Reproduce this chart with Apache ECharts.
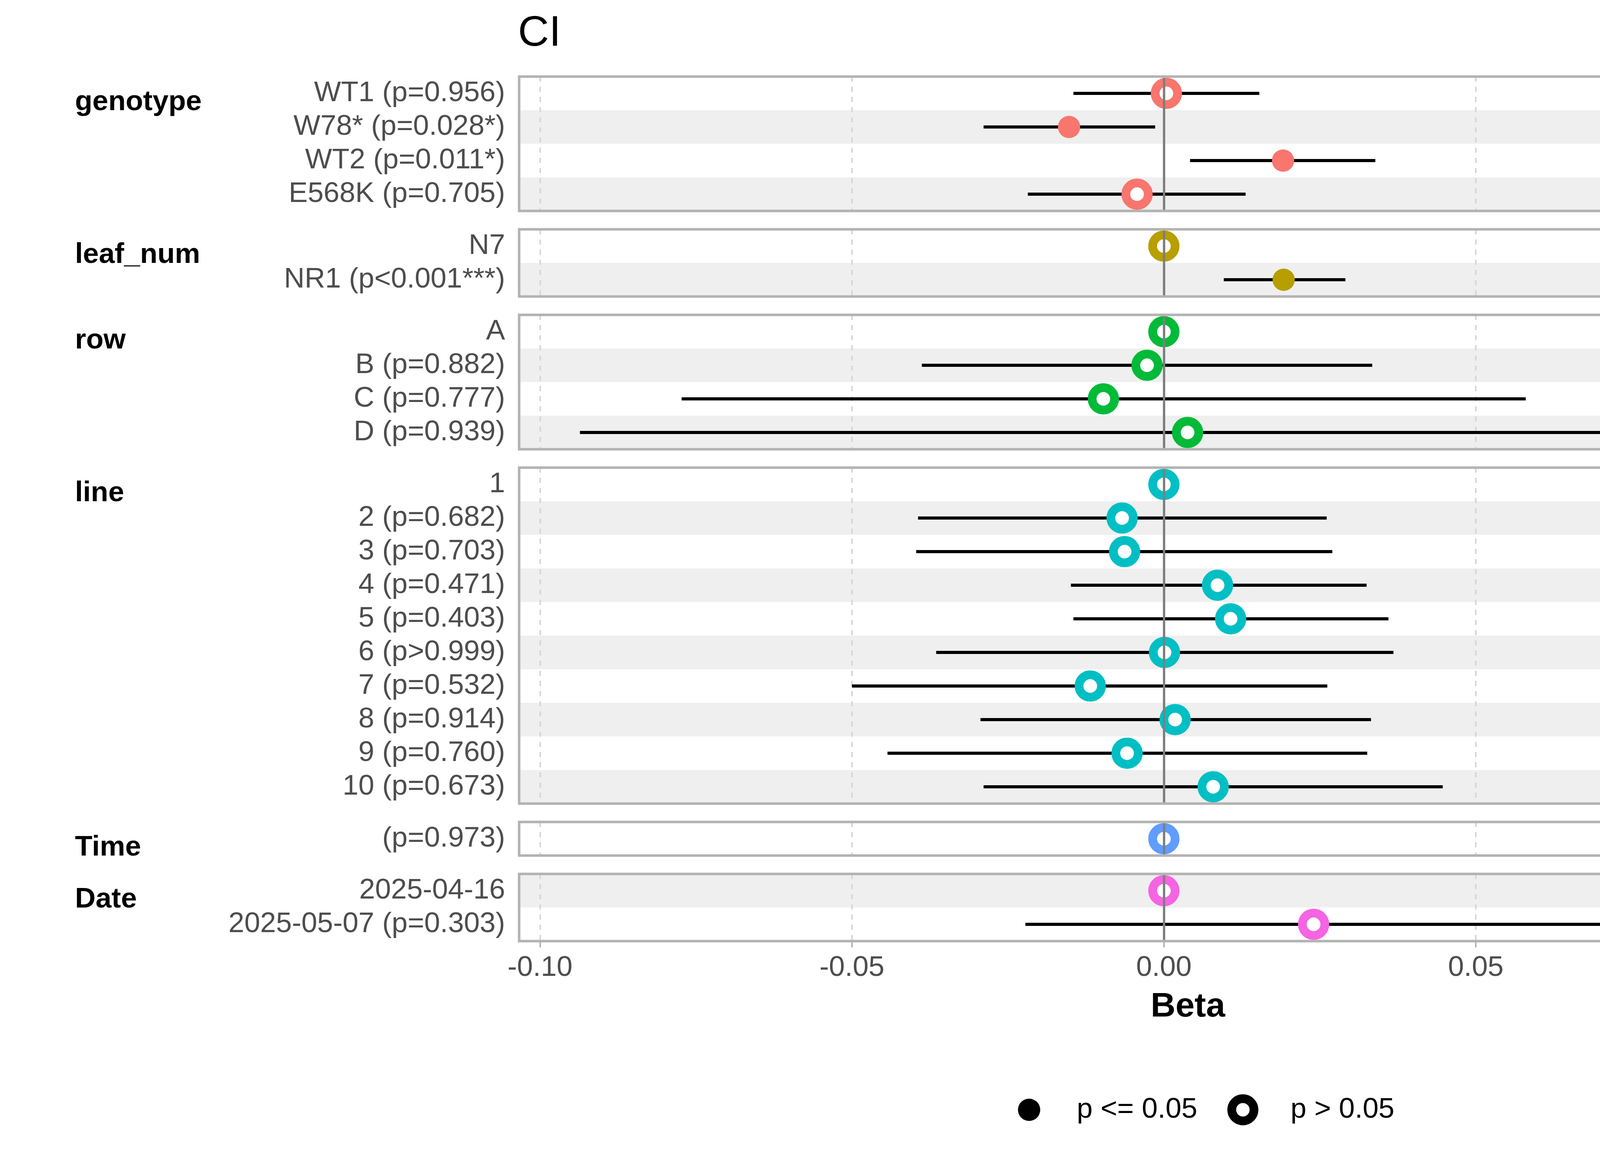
<!DOCTYPE html>
<html>
<head>
<meta charset="utf-8">
<title>CI</title>
<script src="https://cdn.jsdelivr.net/npm/echarts@6.0.0/dist/echarts.min.js"></script>
<style>
html, body { margin: 0; padding: 0; background: #fff; }
#chart { width: 4800px; height: 3000px; }
</style>
</head>
<body>
<div id="chart"></div>
<script>
// 모델 항목 그룹 (위에서 아래 순서)
var groupNames = ['genotype', 'leaf_num', 'row', 'line', 'Time', 'Date'];

var genotypeLevels = ['WT1 (p=0.956)', 'W78* (p=0.028*)', 'WT2 (p=0.011*)', 'E568K (p=0.705)'];
var genotypeBeta = [0.0004, -0.0152, 0.0191, -0.0043];
var genotypeLow = [-0.0145, -0.0289, 0.0042, -0.0218];
var genotypeHigh = [0.0153, -0.0014, 0.0339, 0.0131];
var genotypeP = [0.956, 0.028, 0.011, 0.705];

var leafLevels = ['N7', 'NR1 (p<0.001***)'];
var leafBeta = [0, 0.0192];
var leafLow = [null, 0.0096];
var leafHigh = [null, 0.0291];
var leafP = [null, 0.0005];

var rowLevels = ['A', 'B (p=0.882)', 'C (p=0.777)', 'D (p=0.939)'];
var rowBeta = [0, -0.0027, -0.0097, 0.0038];
var rowLow = [null, -0.0388, -0.0773, -0.0936];
var rowHigh = [null, 0.0334, 0.0580, 0.1013];
var rowP = [null, 0.882, 0.777, 0.939];

var lineLevels = ['1', '2 (p=0.682)', '3 (p=0.703)', '4 (p=0.471)', '5 (p=0.403)',
	'6 (p>0.999)', '7 (p=0.532)', '8 (p=0.914)', '9 (p=0.760)', '10 (p=0.673)'];
var lineBeta = [0, -0.0067, -0.0063, 0.0086, 0.0107, 0.0001, -0.0118, 0.0018, -0.0059, 0.0079];
var lineLow = [null, -0.0394, -0.0397, -0.0149, -0.0145, -0.0365, -0.0500, -0.0294, -0.0443, -0.0289];
var lineHigh = [null, 0.0261, 0.0270, 0.0325, 0.0360, 0.0368, 0.0262, 0.0332, 0.0326, 0.0447];
var lineP = [null, 0.682, 0.703, 0.471, 0.403, 0.9995, 0.532, 0.914, 0.760, 0.673];

var timeLevels = ['(p=0.973)'];
var timeBeta = [0.0000];
var timeLow = [null]; // 구간이 점에 가려 보이지 않음
var timeHigh = [null];
var timeP = [0.973];

var dateLevels = ['2025-04-16', '2025-05-07 (p=0.303)'];
var dateBeta = [0, 0.0240];
var dateLow = [null, -0.0222];
var dateHigh = [null, 0.0700];
var dateP = [null, 0.303];

var xTicks = [-0.10, -0.05, 0.00, 0.05, 0.10];
var refLine = 0;

var groups = [
	{ levels: genotypeLevels, beta: genotypeBeta, low: genotypeLow, high: genotypeHigh, p: genotypeP },
	{ levels: leafLevels, beta: leafBeta, low: leafLow, high: leafHigh, p: leafP },
	{ levels: rowLevels, beta: rowBeta, low: rowLow, high: rowHigh, p: rowP },
	{ levels: lineLevels, beta: lineBeta, low: lineLow, high: lineHigh, p: lineP },
	{ levels: timeLevels, beta: timeBeta, low: timeLow, high: timeHigh, p: timeP },
	{ levels: dateLevels, beta: dateBeta, low: dateLow, high: dateHigh, p: dateP }
];

var groupColors = ['#F8766D', '#B79F00', '#00BA38', '#00BFC4', '#619CFF', '#F564E3'];

// x축 범위: 전체 값 범위에서 5% 확장 (ggplot 기본)
var allVals = [];
groups.forEach(function (g) {
	g.beta.concat(g.low, g.high).forEach(function (v) { if (v !== null) allVals.push(v); });
});
var vMin = Math.min.apply(null, allVals);
var vMax = Math.max.apply(null, allVals);
var pad = (vMax - vMin) * 0.05;
var xMin = vMin - pad, xMax = vMax + pad;

// 레이아웃
var FONT = 'Liberation Sans, Arial, sans-serif';
var PANEL_LEFT = 1329, PANEL_WIDTH = 3424, PANEL_TOP = 196, ROW_H = 86, PANEL_GAP = 47;

var grids = [], xAxes = [], yAxes = [], series = [], graphics = [];
var rowsBefore = 0;

groups.forEach(function (g, i) {
	var n = g.levels.length;
	var top = PANEL_TOP + rowsBefore * ROW_H + i * PANEL_GAP;
	var height = n * ROW_H;
	var last = (i === groups.length - 1);
	var grey = '#efefef', white = '#ffffff';

	grids.push({ left: PANEL_LEFT, top: top, width: PANEL_WIDTH, height: height });

	xAxes.push({
		type: 'value', gridIndex: i, min: xMin, max: xMax,
		axisLine: { show: false },
		splitLine: { show: true, lineStyle: { color: '#d6d6d6', width: 4, type: [13, 13] } },
		axisTick: { show: last, customValues: xTicks, length: 16, lineStyle: { color: '#b3b3b3', width: 4 } },
		axisLabel: {
			show: last, customValues: xTicks, margin: 32,
			formatter: function (v) { return v.toFixed(2); },
			fontSize: 73, color: '#4d4d4d', fontFamily: FONT
		},
		name: last ? 'Beta' : '',
		nameLocation: 'middle', nameGap: 125,
		nameTextStyle: { fontSize: 88, fontWeight: 'bold', color: '#000', fontFamily: FONT }
	});

	yAxes.push({
		type: 'category', gridIndex: i, data: g.levels, inverse: true,
		axisLine: { show: false }, axisTick: { show: false },
		axisLabel: { interval: 0, margin: 36, fontSize: 73, color: '#4d4d4d', fontFamily: FONT },
		splitLine: { show: false },
		splitArea: { show: true, areaStyle: { color: rowsBefore % 2 === 0 ? [white, grey] : [grey, white] } }
	});

	// 0 기준선
	series.push({
		type: 'scatter', xAxisIndex: i, yAxisIndex: i, data: [], z: 1, silent: true,
		markLine: {
			silent: true, symbol: ['none', 'none'], animation: false,
			label: { show: false },
			lineStyle: { color: '#7f7f7f', width: 6, type: 'solid' },
			data: [{ xAxis: refLine }]
		}
	});

	// 신뢰구간
	var bars = [], openPts = [], fillPts = [];
	g.levels.forEach(function (lv, j) {
		if (g.low[j] !== null) bars.push([g.low[j], g.high[j], j]);
		if (g.p[j] !== null && g.p[j] <= 0.05) fillPts.push([g.beta[j], j]);
		else openPts.push([g.beta[j], j]);
	});

	series.push({
		type: 'custom', xAxisIndex: i, yAxisIndex: i, z: 2, silent: true,
		data: bars,
		encode: { x: [0, 1], y: 2 },
		renderItem: function (params, api) {
			var y = api.value(2);
			var a = api.coord([api.value(0), y]);
			var b = api.coord([api.value(1), y]);
			return {
				type: 'line',
				shape: { x1: a[0], y1: a[1], x2: b[0], y2: b[1] },
				style: { stroke: '#000', lineWidth: 8 }
			};
		}
	});

	series.push({
		name: 'p > 0.05', type: 'scatter', xAxisIndex: i, yAxisIndex: i, z: 3,
		data: openPts, symbol: 'circle', symbolSize: 57.5,
		itemStyle: { color: '#fff', borderColor: groupColors[i], borderWidth: 22.5, opacity: 1 },
		emphasis: { disabled: true }
	});
	series.push({
		name: 'p <= 0.05', type: 'scatter', xAxisIndex: i, yAxisIndex: i, z: 3,
		data: fillPts, symbol: 'circle', symbolSize: 57,
		itemStyle: { color: groupColors[i], borderWidth: 0, opacity: 1 },
		emphasis: { disabled: true }
	});

	// 패널 테두리, 그룹 이름
	graphics.push({
		type: 'rect', z: 100, silent: true,
		shape: { x: PANEL_LEFT, y: top, width: PANEL_WIDTH, height: height },
		style: { fill: 'none', stroke: '#b3b3b3', lineWidth: 6.5 }
	});
	graphics.push({
		type: 'text', x: 192, y: top + 66, silent: true,
		style: {
			text: groupNames[i], fill: '#000', fontSize: 73, fontWeight: 'bold',
			fontFamily: FONT, align: 'left', verticalAlign: 'middle'
		}
	});

	rowsBefore += n;
});

graphics.push({
	type: 'text', x: 1326, y: 87, silent: true,
	style: { text: 'CI', fill: '#000', fontSize: 110, fontFamily: FONT, align: 'left', verticalAlign: 'middle' }
});

var myChart = echarts.init(document.getElementById('chart'), null, { renderer: 'canvas' });

var option = {
	backgroundColor: '#fff',
	animation: false,
	grid: grids,
	xAxis: xAxes,
	yAxis: yAxes,
	legend: {
		left: 2606, top: 2801, padding: 0, orient: 'horizontal',
		itemWidth: 234, itemHeight: 57, itemGap: 77, selectedMode: false,
		textStyle: { fontSize: 73, color: '#000', fontFamily: FONT },
		data: [
			{ name: 'p <= 0.05', icon: 'circle', itemStyle: { color: '#000', borderWidth: 0 } },
			{ name: 'p > 0.05', icon: 'circle', itemStyle: { color: '#fff', borderColor: '#000', borderWidth: 22.5 } }
		]
	},
	graphic: graphics,
	series: series
};

myChart.setOption(option);
</script>
</body>
</html>
